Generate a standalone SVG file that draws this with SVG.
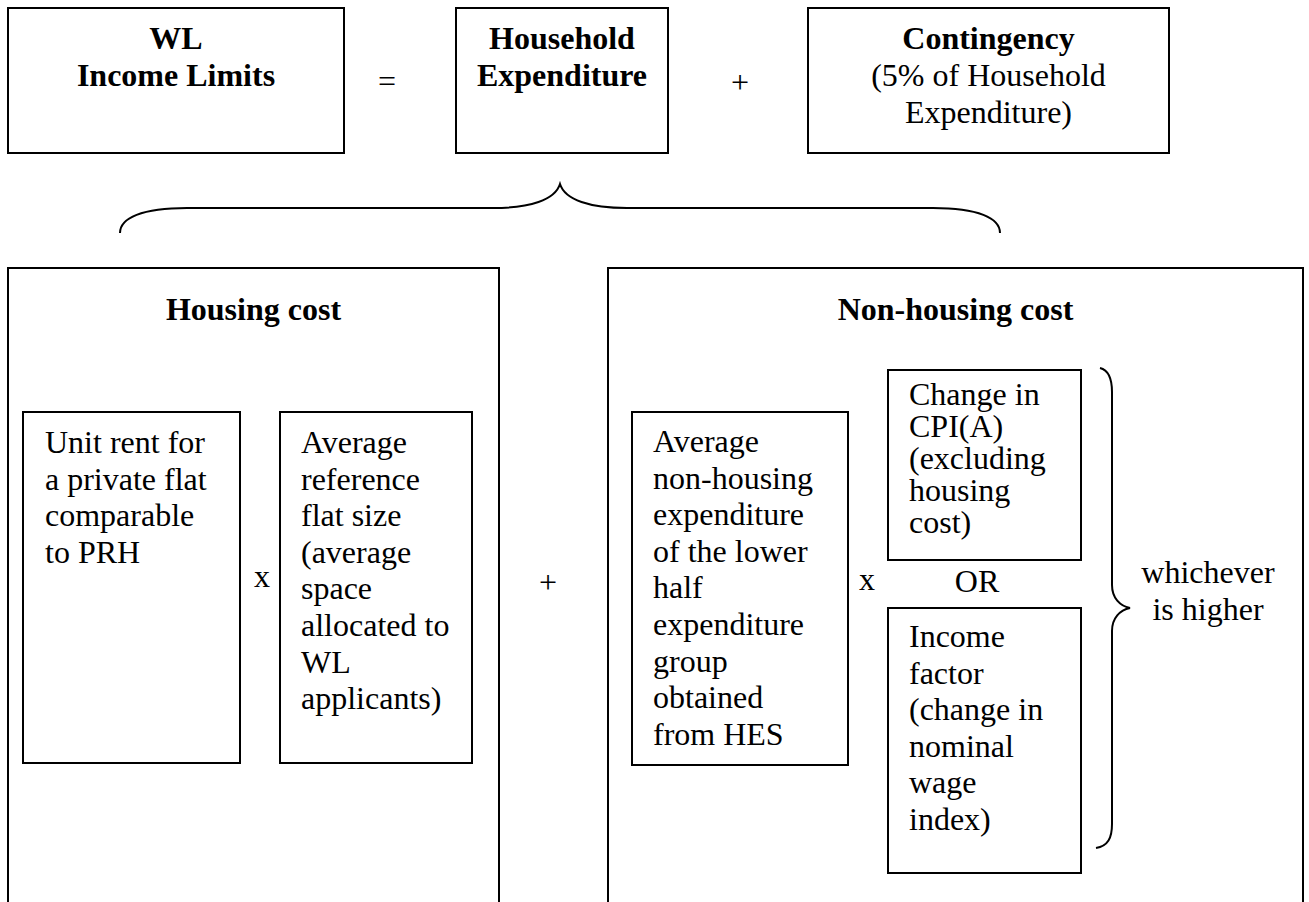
<svg xmlns="http://www.w3.org/2000/svg" width="1309" height="902" viewBox="0 0 1309 902">
<style>
rect{fill:none;stroke:#000;stroke-width:2}
text{font-family:"Liberation Serif","Times New Roman",serif;font-size:32px;fill:#000}
.b{font-weight:bold}
.c{text-anchor:middle}
.brace{fill:none;stroke:#000;stroke-width:2}
</style>
<rect x="0" y="0" width="1309" height="902" style="fill:#fff;stroke:none"/>
<g id="wl-income-limits">
<rect x="8" y="8" width="336" height="145"/>
<text class="b c" x="176" y="49">WL</text>
<text class="b c" x="176" y="86">Income Limits</text>
</g>
<g id="op-equals"><text class="c" x="387" y="92">=</text></g>
<g id="household-expenditure">
<rect x="456" y="8" width="212" height="145"/>
<text class="b c" x="562" y="49">Household</text>
<text class="b c" x="562" y="86">Expenditure</text>
</g>
<g id="op-plus-top"><text class="c" x="740" y="93">+</text></g>
<g id="contingency">
<rect x="808" y="8" width="361" height="145"/>
<text class="b c" x="988.5" y="49">Contingency</text>
<text class="c" x="988.5" y="86">(5% of Household</text>
<text class="c" x="988.5" y="123">Expenditure)</text>
</g>
<g id="connectors">
<path class="brace" d="M120,233 C120,218 142,208 187,208 L493,208 C530,208 555,200 560,184 C565,200 590,208 627,208 L933,208 C978,208 1000,218 1000,233"/>
<path class="brace" d="M1100,368 C1108,370 1112,378 1112,392 L1112,585 C1112,598 1120,606 1130,608 C1120,610 1112,618 1112,631 L1112,824 C1112,838 1108,846 1096,848"/>
</g>
<g id="housing-cost">
<rect x="8" y="268" width="491" height="700"/>
<text class="b c" x="253.5" y="320">Housing cost</text>
</g>
<g id="unit-rent">
<rect x="23" y="412" width="217" height="351"/>
<text x="45" y="453">Unit rent for</text>
<text x="45" y="489.6">a private flat</text>
<text x="45" y="526.2">comparable</text>
<text x="45" y="562.8">to PRH</text>
</g>
<g id="op-times-1"><text class="c" x="262" y="587">x</text></g>
<g id="flat-size">
<rect x="280" y="412" width="192" height="351"/>
<text x="301" y="453">Average</text>
<text x="301" y="489.6">reference</text>
<text x="301" y="526.2">flat size</text>
<text x="301" y="562.8">(average</text>
<text x="301" y="599.4">space</text>
<text x="301" y="636">allocated to</text>
<text x="301" y="672.6">WL</text>
<text x="301" y="709.2">applicants)</text>
</g>
<g id="op-plus-mid"><text class="c" x="548" y="593">+</text></g>
<g id="non-housing-cost">
<rect x="608" y="268" width="695" height="700"/>
<text class="b c" x="955.5" y="320">Non-housing cost</text>
</g>
<g id="non-housing-expenditure">
<rect x="632" y="412" width="216" height="353"/>
<text x="653" y="452">Average</text>
<text x="653" y="488.6">non-housing</text>
<text x="653" y="525.2">expenditure</text>
<text x="653" y="561.8">of the lower</text>
<text x="653" y="598.4">half</text>
<text x="653" y="635">expenditure</text>
<text x="653" y="671.6">group</text>
<text x="653" y="708.2">obtained</text>
<text x="653" y="744.8">from HES</text>
</g>
<g id="op-times-2"><text class="c" x="867" y="590">x</text></g>
<g id="cpi-change">
<rect x="888" y="370" width="193" height="190"/>
<text x="909" y="405">Change in</text>
<text x="909" y="437">CPI(A)</text>
<text x="909" y="469">(excluding</text>
<text x="909" y="501">housing</text>
<text x="909" y="533">cost)</text>
</g>
<g id="op-or"><text class="c" x="977" y="592">OR</text></g>
<g id="income-factor">
<rect x="888" y="608" width="193" height="265"/>
<text x="909" y="647">Income</text>
<text x="909" y="683.6">factor</text>
<text x="909" y="720.2">(change in</text>
<text x="909" y="756.8">nominal</text>
<text x="909" y="793.4">wage</text>
<text x="909" y="830">index)</text>
</g>
<g id="whichever-label">
<text class="c" x="1208" y="583">whichever</text>
<text class="c" x="1208" y="620">is higher</text>
</g>
</svg>
